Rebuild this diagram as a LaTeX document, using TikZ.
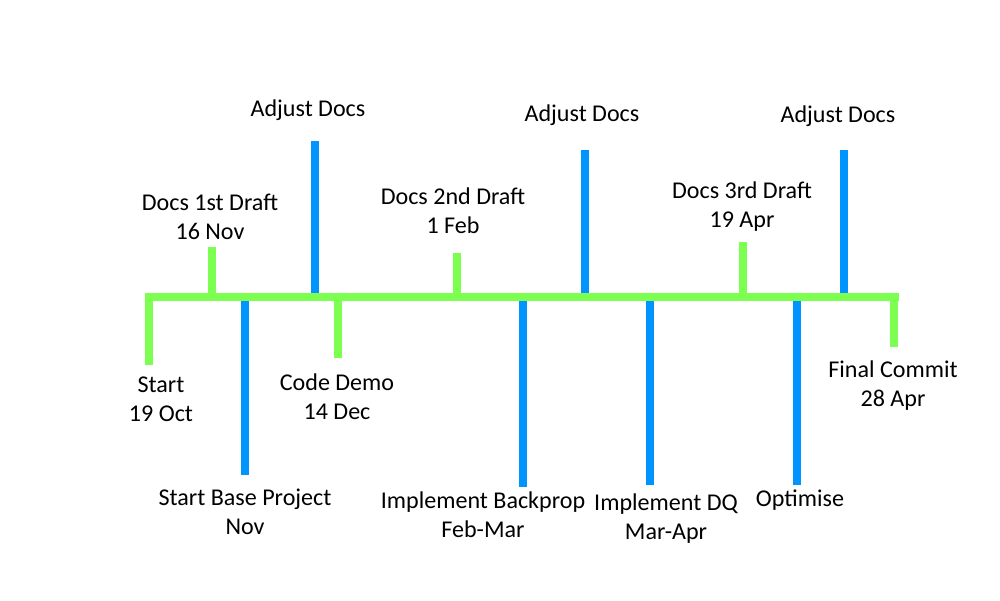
\documentclass[tikz,border=0pt]{standalone}
\usepackage{fontspec}
\setmainfont{Carlito}
\definecolor{tlgreen}{RGB}{124,255,80}
\definecolor{tlblue}{RGB}{0,148,255}
\tikzset{
    milestone/.style={draw=tlgreen, line width=0.16cm},
    phase/.style={draw=tlblue, line width=0.16cm},
    lbl/.style={align=center, font=\fontsize{13.7}{16.5}\selectfont, inner sep=0pt}
}
\begin{document}
\begin{tikzpicture}[x=0.02cm, y=-0.02cm]
    \useasboundingbox (0,0) rectangle (1000,600);
    % axis
    \coordinate (ax0) at (145,297);
    \coordinate (ax1) at (899,297);
    % blue phases
    \draw[phase] (245,300) coordinate (sbp) -- (245,475) coordinate (sbpe);
    \draw[phase] (315,297) coordinate (ad1) -- (315,141) coordinate (ad1e);
    \draw[phase] (523,300) coordinate (ibp) -- (523,487) coordinate (ibpe);
    \draw[phase] (585,297) coordinate (ad2) -- (585,150) coordinate (ad2e);
    \draw[phase] (650,300) coordinate (idq) -- (650,485) coordinate (idqe);
    \draw[phase] (797,300) coordinate (opt) -- (797,485) coordinate (opte);
    \draw[phase] (844,297) coordinate (ad3) -- (844,150) coordinate (ad3e);
    % green milestones
    \draw[milestone] (ax0) -- (ax1);
    \draw[milestone] (149,293) coordinate (st) -- (149,365) coordinate (ste);
    \draw[milestone] (212,297) coordinate (d1) -- (212,247) coordinate (d1e);
    \draw[milestone] (338,297) coordinate (cd) -- (338,358) coordinate (cde);
    \draw[milestone] (457,297) coordinate (d2) -- (457,253) coordinate (d2e);
    \draw[milestone] (743,297) coordinate (d3) -- (743,242) coordinate (d3e);
    \draw[milestone] (894,293) coordinate (fc) -- (894,347) coordinate (fce);
    % labels
    \node[lbl] (lst) at (161,399) {Start\\19 Oct};
    \node[lbl] (ld1) at (210,217) {Docs 1st Draft\\16 Nov};
    \node[lbl] (lsbp) at (245,512) {Start Base Project\\Nov};
    \node[lbl] (lad1) at (308,110) {Adjust Docs};
    \node[lbl] (lcd) at (337,397) {Code Demo\\14 Dec};
    \node[lbl] (ld2) at (453,211) {Docs 2nd Draft\\1 Feb};
    \node[lbl] (libp) at (483,515) {Implement Backprop\\Feb-Mar};
    \node[lbl] (lad2) at (582,115) {Adjust Docs};
    \node[lbl] (lidq) at (666,519) {Implement DQ\\Mar-Apr};
    \node[lbl] (ld3) at (742,207) {Docs 3rd Draft\\19 Apr};
    \node[lbl] (lopt) at (800,500) {Optimise};
    \node[lbl] (lad3) at (838,116) {Adjust Docs};
    \node[lbl] (lfc) at (893,386) {Final Commit\\28 Apr};
\end{tikzpicture}
\end{document}
